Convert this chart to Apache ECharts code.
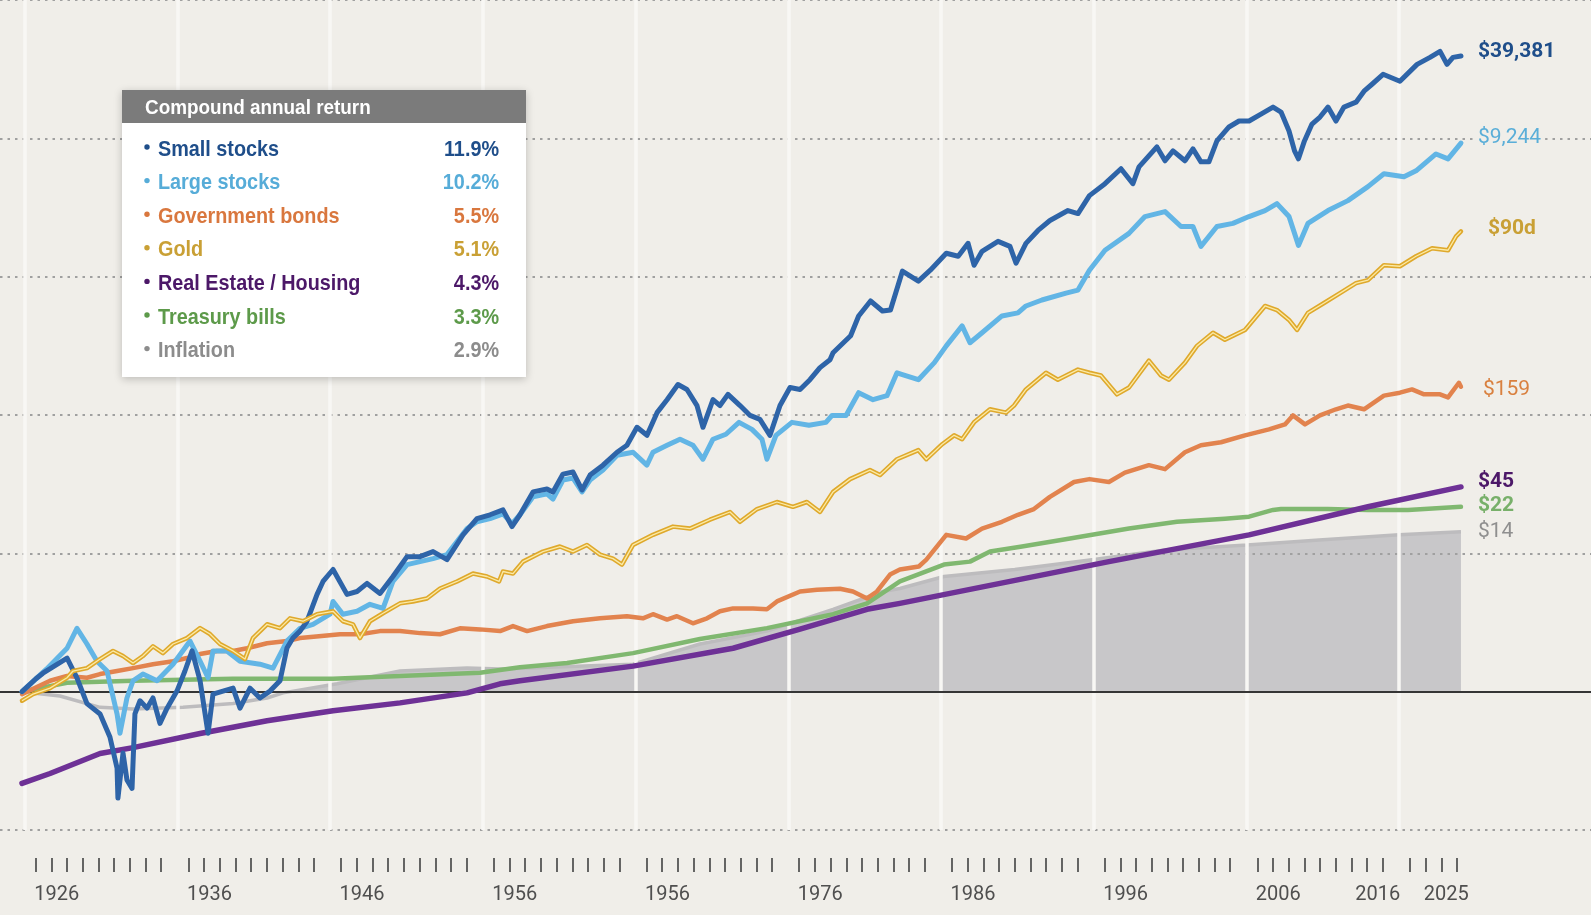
<!DOCTYPE html>
<html>
<head>
<meta charset="utf-8">
<title>Growth of $1, 1926-2025</title>
<script src="https://cdn.jsdelivr.net/npm/echarts@6.0.0/dist/echarts.min.js"></script>
<style>
  html, body { margin: 0; padding: 0; background: #f0eee9; }
  #chart { width: 1591px; height: 915px; }
</style>
</head>
<body>
<div id="chart"></div>
<script>
// Values: [year, dollars]
const smallStocks = [
  [1926.00,1.00],[1926.96,1.24],[1927.44,1.36],[1929.10,1.75],[1929.78,1.26],[1930.47,0.82],[1931.37,0.69],[1932.05,0.47],
  [1932.54,0.28],[1932.60,0.17],[1932.95,0.36],[1933.22,0.23],[1933.57,0.20],[1933.77,0.69],[1934.12,0.86],[1934.60,0.76],
  [1935.01,0.90],[1935.49,0.59],[1935.98,0.76],[1936.66,1.01],[1937.21,1.41],[1937.70,1.97],[1938.25,1.20],[1938.80,0.50],
  [1939.14,0.96],[1939.83,1.01],[1940.52,1.06],[1941.00,0.76],[1941.69,1.06],[1942.37,0.90],[1943.06,1.01],[1943.75,1.20],
  [1944.23,2.07],[1944.64,2.44],[1945.13,2.74],[1945.61,3.23],[1946.30,5.05],[1946.71,6.26],[1947.40,7.64],[1948.36,5.05],
  [1949.05,5.30],[1949.74,6.06],[1950.63,5.13],[1951.52,6.80],[1952.49,9.46],[1953.38,9.46],[1954.28,10.3],[1955.24,9.0],
  [1956.34,13.6],[1957.30,17.8],[1958.20,19.0],[1959.09,20.6],[1959.71,15.6],[1960.26,19.0],[1961.16,27.8],[1962.12,29.2],
  [1962.53,27.8],[1963.22,37.4],[1963.91,38.7],[1964.53,28.7],[1965.08,36.8],[1965.97,43.4],[1966.94,53.8],[1967.62,60.4],
  [1968.31,81.5],[1969.00,71.3],[1969.69,104],[1970.38,129],[1971.13,166],[1971.75,153],[1972.44,117],[1972.85,81.5],
  [1973.54,129],[1974.02,117],[1974.57,141],[1975.40,117],[1976.09,99.3],[1976.77,93.0],[1977.46,71.3],[1978.15,117],
  [1978.84,158],[1979.53,153],[1980.21,180],[1980.90,220],[1981.59,251],[1981.80,282],[1983.01,374],[1983.56,520],
  [1984.38,667],[1985.20,565],[1985.75,574],[1986.57,1096],[1987.67,929],[1988.49,1114],[1989.59,1476],[1990.41,1404],
  [1991.09,1741],[1991.50,1210],[1992.05,1525],[1993.15,1799],[1993.97,1656],[1994.39,1250],[1995.07,1741],[1995.90,2159],
  [1996.72,2548],[1997.96,3006],[1998.65,2860],[1999.44,3853],[2000.51,4700],[2001.61,6026],[2002.43,4700],[2002.85,6226],
  [2004.08,8670],[2004.64,6884],[2005.19,8118],[2006.01,6884],[2006.56,8392],[2007.11,6764],[2007.66,6764],[2008.21,9580],
  [2009.04,12080],[2009.73,13340],[2010.42,13340],[2011.24,14970],[2012.07,16820],[2012.62,15490],[2013.17,11300],[2013.55,8118],
  [2013.82,7112],[2014.23,9580],[2014.75,12690],[2015.30,14250],[2015.85,16820],[2016.40,13340],[2016.95,16820],[2017.78,18260],
  [2018.33,21920],[2018.88,24600],[2019.64,29040],[2020.80,25860],[2021.98,34260],[2022.87,38470],[2023.56,42490],[2024.04,34260],
  [2024.45,38470],[2025.00,39381]
];

const largeStocks = [
  [1926.00,1.00],[1927.70,1.46],[1929.10,2.06],[1929.78,2.87],[1930.47,2.21],[1931.16,1.66],[1931.85,1.41],[1932.54,0.69],
  [1932.74,0.50],[1933.22,0.90],[1933.64,1.20],[1934.32,1.34],[1935.29,1.20],[1936.39,1.58],[1937.56,2.32],[1938.25,1.66],
  [1938.80,1.26],[1939.14,1.97],[1940.10,1.97],[1941.00,1.66],[1942.37,1.58],[1943.27,1.48],[1944.23,2.32],[1945.13,2.87],
  [1946.02,3.07],[1947.19,3.63],[1947.40,4.49],[1948.08,3.63],[1949.05,3.81],[1949.94,4.28],[1950.84,4.00],[1951.52,6.26],
  [1952.49,8.29],[1953.38,8.71],[1954.28,9.16],[1955.24,9.79],[1956.62,15.1],[1957.30,16.9],[1958.20,17.8],[1959.09,19.3],
  [1959.71,16.4],[1960.26,19.0],[1961.16,25.6],[1962.12,26.9],[1962.53,24.7],[1963.22,33.9],[1963.91,35.0],[1964.53,27.8],
  [1965.08,33.9],[1965.97,40.0],[1966.94,51.2],[1968.04,53.8],[1968.99,43.4],[1969.41,53.8],[1970.38,60.4],[1971.27,66.8],
  [1972.16,60.4],[1972.85,47.9],[1973.54,66.8],[1974.43,72.6],[1975.33,88.5],[1976.22,78.7],[1976.91,66.8],[1977.25,47.9],
  [1977.87,71.3],[1978.97,88.5],[1980.14,84.2],[1981.31,88.5],[1981.73,99.3],[1982.69,99.3],[1983.56,145],[1984.55,129],
  [1985.51,138],[1986.20,202],[1986.57,196],[1987.67,180],[1988.77,239],[1989.59,316],[1990.68,441],[1991.22,333],
  [1992.05,393],[1993.42,520],[1994.52,547],[1995.07,614],[1996.17,678],[1997.83,761],[1998.65,800],[1999.44,1114],
  [2000.51,1552],[2002.16,2056],[2003.26,2720],[2004.64,2956],[2005.74,2306],[2006.56,2306],[2007.11,1656],[2008.21,2306],
  [2009.31,2427],[2010.42,2720],[2011.52,3006],[2012.34,3375],[2013.17,2720],[2013.82,1683],[2014.47,2427],[2015.85,3006],
  [2017.22,3545],[2018.60,4474],[2019.70,5550],[2021.08,5278],[2021.91,5822],[2023.28,7709],[2024.11,7101],[2025.00,9244]
];

const govBonds = [
  [1926.00,0.96],[1927.93,1.20],[1929.10,1.30],[1930.47,1.26],[1931.37,1.34],[1932.54,1.41],[1933.64,1.48],[1935.01,1.58],
  [1936.39,1.66],[1937.35,1.75],[1938.25,1.87],[1939.42,1.97],[1940.52,1.97],[1941.48,2.06],[1942.86,2.24],[1944.23,2.32],
  [1945.13,2.44],[1946.43,2.52],[1947.88,2.60],[1949.25,2.60],[1950.63,2.74],[1952.01,2.74],[1953.38,2.65],[1954.76,2.60],
  [1956.13,2.87],[1957.51,2.82],[1958.89,2.74],[1959.78,2.98],[1960.75,2.74],[1962.12,2.98],[1963.91,3.23],[1965.77,3.39],
  [1967.62,3.51],[1968.72,3.39],[1969.41,3.63],[1970.38,3.32],[1971.06,3.51],[1972.16,3.12],[1973.13,3.39],[1974.02,3.81],
  [1974.92,4.00],[1976.29,4.00],[1977.25,3.94],[1977.94,4.49],[1979.53,5.30],[1980.70,5.46],[1982.28,5.55],[1983.17,5.30],
  [1984.14,4.72],[1984.82,5.30],[1985.72,7.03],[1986.40,7.63],[1987.70,8.03],[1988.22,9.01],[1989.59,13.6],[1990.95,12.8],
  [1992.05,15.1],[1993.42,16.9],[1994.52,19.0],[1995.62,20.9],[1996.72,25.6],[1998.38,32.8],[1999.44,34.4],[2000.78,32.8],
  [2001.88,38.3],[2003.53,43.4],[2004.64,40.6],[2006.01,53.8],[2007.11,60.4],[2008.49,63.5],[2010.14,71.3],[2011.79,78.7],
  [2012.89,85.5],[2013.44,99.3],[2014.27,85.5],[2015.30,99.3],[2016.40,110],[2017.22,117],[2018.33,110],[2019.70,138],
  [2020.80,145],[2021.63,153],[2022.46,141],[2023.56,141],[2024.11,134],[2024.86,171],[2025.00,160]
];

const gold = [
  [1926.00,0.86],[1926.76,0.96],[1927.93,1.06],[1929.10,1.26],[1929.51,1.41],[1930.47,1.48],[1931.37,1.72],[1932.26,1.97],
  [1932.95,1.81],[1933.64,1.61],[1934.32,1.81],[1935.01,2.13],[1935.70,1.90],[1936.39,2.21],[1937.35,2.44],[1938.25,2.88],
  [1938.93,2.61],[1939.62,2.21],[1940.52,1.97],[1941.34,1.72],[1941.89,2.44],[1942.86,3.07],[1943.75,2.88],[1944.44,3.39],
  [1945.33,3.23],[1946.30,3.63],[1947.40,3.81],[1948.08,3.23],[1948.77,3.07],[1949.25,2.44],[1949.94,3.23],[1950.84,3.69],
  [1952.01,4.35],[1952.90,4.49],[1953.86,4.72],[1954.76,5.57],[1955.93,6.26],[1957.03,7.14],[1957.99,6.80],[1958.82,6.26],
  [1959.09,7.39],[1959.78,7.14],[1960.47,8.71],[1961.84,10.3],[1963.01,11.2],[1963.91,10.3],[1964.87,11.5],[1965.77,9.79],
  [1966.66,9.16],[1967.28,8.29],[1968.04,11.5],[1969.41,13.6],[1970.79,15.6],[1971.96,15.1],[1973.33,17.5],[1974.71,19.9],
  [1975.40,16.9],[1976.57,20.9],[1977.94,23.5],[1979.04,21.7],[1980.00,23.5],[1980.90,19.9],[1981.80,27.8],[1982.97,34.4],
  [1984.34,40.0],[1985.03,36.8],[1986.20,47.9],[1987.67,55.7],[1988.22,47.9],[1989.31,61.5],[1990.13,71.3],[1990.68,66.8],
  [1991.50,88.5],[1992.60,110],[1993.70,104],[1994.25,117],[1995.07,153],[1996.45,202],[1997.27,180],[1998.65,213],
  [1999.44,202],[2000.23,193],[2001.33,141],[2002.16,158],[2003.53,247],[2004.36,193],[2004.91,180],[2006.01,239],
  [2006.84,316],[2007.94,393],[2008.76,350],[2010.14,412],[2011.52,614],[2012.34,574],[2013.17,487],[2013.72,412],
  [2014.47,547],[2015.58,645],[2016.68,761],[2017.78,898],[2018.60,944],[2019.70,1210],[2020.80,1189],[2021.91,1404],
  [2023.01,1603],[2024.11,1552],[2024.66,1955],[2025.00,2124]
];

const realEstate = [
  [1926.00,0.217],[1927.93,0.256],[1931.37,0.357],[1933.64,0.394],[1938.25,0.498],[1942.86,0.617],[1947.40,0.728],
  [1952.01,0.830],[1956.62,0.98],[1958.89,1.14],[1960.26,1.20],[1968.04,1.53],[1974.92,2.06],[1979.53,2.83],
  [1984.14,3.94],[1986.40,4.35],[2000.78,8.71],[2010.42,13.6],[2018.60,21.7],[2025.00,30.2]
];

const tBills = [
  [1926.00,1.00],[1929.10,1.16],[1933.64,1.20],[1940.52,1.24],[1947.40,1.24],[1952.01,1.30],[1957.51,1.37],[1960.26,1.50],
  [1963.50,1.61],[1968.04,1.90],[1972.64,2.40],[1977.25,2.88],[1981.80,3.63],[1984.14,4.35],[1986.40,6.26],[1989.43,8.29],
  [1991.22,8.71],[1992.60,10.3],[1994.80,11.2],[1998.10,12.8],[2002.16,15.1],[2005.46,16.9],[2008.76,17.8],[2010.42,18.4],
  [2012.07,20.6],[2012.62,20.9],[2015.85,20.9],[2018.60,20.6],[2021.36,20.6],[2025.00,21.7]
];

const inflation = [
  [1926.00,1.00],[1928.61,0.93],[1931.37,0.77],[1933.64,0.75],[1937.08,0.77],[1940.52,0.82],[1942.86,0.90],[1943.96,0.98],
  [1947.67,1.14],[1952.01,1.41],[1956.62,1.48],[1958.89,1.46],[1968.04,1.58],[1972.64,2.21],[1977.25,2.74],[1981.80,3.94],
  [1985.23,5.30],[1986.40,5.57],[1989.43,6.80],[1994.30,7.64],[1999.75,9.01],[2004.78,10.6],[2010.29,11.5],[2015.24,12.5],
  [2020.75,13.6],[2025.00,14.3]
];

// legend box and end labels (same order: small, large, bonds, gold, real estate, bills, inflation)
const legendNames = ['Small stocks', 'Large stocks', 'Government bonds', 'Gold', 'Real Estate / Housing', 'Treasury bills', 'Inflation'];
const legendReturns = ['11.9%', '10.2%', '5.5%', '5.1%', '4.3%', '3.3%', '2.9%'];
const endLabels = ['$39,381', '$9,244', '$159', '$90d', '$45', '$22', '$14'];
const yearLabels = ['1926', '1936', '1946', '1956', '1956', '1976', '1986', '1996', '2006', '2016', '2025'];

// ---- layout / style ----
const FONT = "Roboto, 'Liberation Sans', sans-serif";
const LEGEND_FONT = "'Liberation Sans', Arial, Roboto, sans-serif";
const BG = '#f0eee9';
const lineColors = ['#2e64a8', '#62b5e5', '#e2834e', '#dfa92c', '#6e3196', '#80b870', '#c8c7c9'];
const textColors = ['#1f4e8a', '#56acd8', '#d9773e', '#c9a035', '#4c1868', '#5d9a4a', '#8c8c8c'];

// x axis in years: 1926 sits 22px from the left, 14.535 px per year
const PX_PER_YEAR = 14.535;
const X_MIN = 1926 - 22 / PX_PER_YEAR;
const X_MAX = X_MIN + 1591 / PX_PER_YEAR;

// white separators every ~10.5 "years", groups of tick marks after each one
const separators = [];
for (let k = 0; k < 10; k++) separators.push(1926.19 + k * 10.506);
const tickVals = [];
separators.forEach((s, k) => {
  const n = k < 9 ? 9 : 4;
  for (let j = 0; j < n; j++) tickVals.push(s + 0.75 + 1.08 * j);
});
const labelVals = separators.slice(0, 9).map(s => s + 0.65);
labelVals.push(separators[8] + 7.49, separators[9] + 1.69);

function endLabel(i, dx, dy, weight, color, extra) {
  return Object.assign({
    show: true,
    formatter: endLabels[i],
    distance: 5,
    offset: [dx, dy],
    fontFamily: FONT,
    fontSize: 21,
    fontWeight: weight,
    color: color
  }, extra || {});
}

function lineSeries(name, data, i, width, label) {
  return {
    name: name,
    type: 'line',
    data: data,
    showSymbol: false,
    symbol: 'none',
    z: 6,
    lineStyle: { color: lineColors[i], width: width, join: 'round', cap: 'round' },
    endLabel: label
  };
}

const series = [
  // inflation: thin line for the early part, filled area above $1 afterwards
  {
    name: 'Inflation line', type: 'line', data: inflation, symbol: 'none', z: 2,
    lineStyle: { color: '#bdbcbe', width: 3.5 }
  },
  {
    name: 'Inflation', type: 'line', data: inflation.filter(p => p[1] >= 0.98), symbol: 'none', z: 2,
    lineStyle: { width: 0 },
    areaStyle: { color: lineColors[6], opacity: 1, origin: 1 },
    endLabel: endLabel(6, 12, 0, 'normal', '#8f8f8f'),
    markLine: {
      silent: true, symbol: 'none', z: 5, animation: false,
      label: { show: false },
      data: separators.map(s => ({ xAxis: s, lineStyle: { color: '#f8f7f4', width: 3.5, type: 'solid' } }))
        .concat([{ yAxis: 1, lineStyle: { color: '#353535', width: 2, type: 'solid' } }])
    }
  },
  lineSeries('Treasury bills', tBills, 5, 4.5, endLabel(5, 12, -1.5, 'bold', '#78b06a')),
  lineSeries('Real Estate / Housing', realEstate, 4, 5.5, endLabel(4, 12, -5, 'bold', textColors[4])),
  lineSeries('Government bonds', govBonds, 2, 4.5, endLabel(2, 17, 3, 'normal', '#d9803f')),
  lineSeries('Large stocks', largeStocks, 1, 5, endLabel(1, 8, -5, 'normal', '#5aaed8',
    { backgroundColor: BG, padding: [0, 4] })),
  lineSeries('Small stocks', smallStocks, 0, 5, endLabel(0, 12, -4, 'bold', textColors[0])),
  lineSeries('Gold', gold, 3, 4.5, endLabel(3, 22, -3, 'bold', textColors[3])),
  // light inner stroke of the gold line
  { name: 'Gold inner', type: 'line', data: gold, symbol: 'none', z: 7,
    lineStyle: { color: '#fbeaa6', width: 1.3, join: 'round' } }
];

// legend box drawn with graphic elements (text squeezed to look condensed)
const graphic = [
  { type: 'rect', x: 122, y: 90, z: 100, shape: { width: 404, height: 287 },
    style: { fill: '#ffffff', shadowBlur: 8, shadowColor: 'rgba(0,0,0,0.22)', shadowOffsetY: 2 } },
  { type: 'rect', x: 122, y: 90, z: 101, shape: { width: 404, height: 33 }, style: { fill: '#7b7b7b' } },
  { type: 'text', x: 145, y: 108, z: 102, scaleX: 0.9,
    style: { text: 'Compound annual return', fill: '#ffffff', font: 'bold 21px ' + LEGEND_FONT,
      align: 'left', verticalAlign: 'middle', textAlign: 'left', textVerticalAlign: 'middle' } }
];
legendNames.forEach((name, i) => {
  const cy = 149.5 + i * 33.6;
  graphic.push(
    { type: 'circle', z: 102, shape: { cx: 147, cy: cy - 2.5, r: 2.7 }, style: { fill: textColors[i] } },
    { type: 'text', x: 158, y: cy, z: 102, scaleX: 0.9,
      style: { text: name, fill: textColors[i], font: 'bold 22px ' + LEGEND_FONT,
        align: 'left', verticalAlign: 'middle', textAlign: 'left', textVerticalAlign: 'middle' } },
    { type: 'text', x: 499, y: cy, z: 102, scaleX: 0.9,
      style: { text: legendReturns[i], fill: textColors[i], font: 'bold 22px ' + LEGEND_FONT,
        align: 'right', verticalAlign: 'middle', textAlign: 'right', textVerticalAlign: 'middle' } }
  );
});

const chart = echarts.init(document.getElementById('chart'));
chart.setOption({
  backgroundColor: BG,
  animation: false,
  textStyle: { fontFamily: FONT },
  grid: { left: 0, right: 0, top: -5, bottom: 85, containLabel: false },
  xAxis: {
    type: 'value',
    min: X_MIN,
    max: X_MAX,
    offset: 28,
    axisLine: { show: false },
    splitLine: { show: false },
    axisTick: { show: true, customValues: tickVals, length: 14, lineStyle: { color: '#555555', width: 1.8 } },
    axisLabel: {
      show: true,
      customValues: labelVals,
      margin: 27,
      align: 'left',
      color: '#4f4f4f',
      fontFamily: FONT,
      fontSize: 20,
      formatter: function (value) {
        const i = labelVals.findIndex(v => Math.abs(v - value) < 1e-6);
        return i >= 0 ? yearLabels[i] : '';
      }
    }
  },
  yAxis: {
    type: 'log',
    logBase: 10,
    min: 0.1,
    max: 100000,
    z: 3, // dotted grid drawn over the inflation area, under the lines
    axisLine: { show: false },
    axisTick: { show: false },
    axisLabel: { show: false },
    splitLine: { show: true, lineStyle: { color: '#a0a0a0', width: 2, type: [2.5, 5] } }
  },
  graphic: graphic,
  series: series
});
</script>
</body>
</html>
